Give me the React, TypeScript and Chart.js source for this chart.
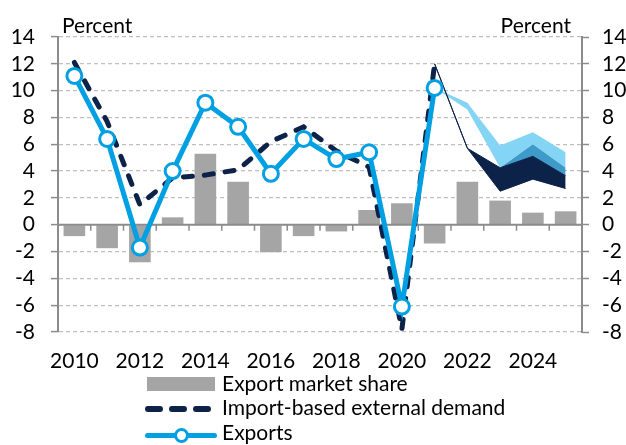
import React, { useEffect, useRef } from 'react';
import { Chart, registerables } from 'chart.js';

Chart.register(...registerables);

const years = ['2010', '2011', '2012', '2013', '2014', '2015', '2016', '2017', '2018', '2019', '2020', '2021', '2022', '2023', '2024', '2025'];
const yTicks = [-8, -6, -4, -2, 0, 2, 4, 6, 8, 10, 12, 14];

const marketShare = [-0.85, -1.75, -2.8, 0.55, 5.3, 3.2, -2.05, -0.85, -0.5, 1.1, 1.6, -1.4, 3.2, 1.8, 0.9, 1.0];
const externalDemand = [12.1, 7.7, 1.5, 3.5, 3.7, 4.1, 6.2, 7.3, 5.5, 4.3, -7.8, 12.0, null, null, null, null];
const exportsSeries = [11.1, 6.4, -1.7, 4.0, 9.1, 7.3, 3.8, 6.4, 4.9, 5.4, -6.1, 10.2, null, null, null, null];

const N = null;
const navyUpper = [N, N, N, N, N, N, N, N, N, N, N, 12.0, 5.7, 4.25, 5.1, 3.65];
const navyLower = [N, N, N, N, N, N, N, N, N, N, N, 12.0, 5.7, 2.5, 3.4, 2.7];
const midUpper = [N, N, N, N, N, N, N, N, N, N, N, N, N, 4.25, 6.0, 4.25];
const midLower = [N, N, N, N, N, N, N, N, N, N, N, N, N, 4.25, 5.1, 3.65];
const lightUpper = [N, N, N, N, N, N, N, N, N, N, N, 10.2, 9.1, 5.9, 6.9, 5.4];
const lightLower = [N, N, N, N, N, N, N, N, N, N, N, 10.2, 8.6, 4.25, 6.0, 4.25];

const FONT = 'Lato';
const GREY_BAR = '#a5a5a5';
const NAVY = '#0c2248';
const BLUE = '#00a0e3';
const MID = '#3d9ac9';
const LIGHT = '#84d4f6';
const AXIS = '#8c8c8c';
const GRID = '#bfbfbf';

const zeroLinePlugin = {
  id: 'zeroLine',
  afterDatasetDraw(chart: any, args: any) {
    if (args.index !== 0) return;
    const { ctx, chartArea, scales } = chart;
    const y0 = scales.y.getPixelForValue(0);
    ctx.save();
    ctx.setLineDash([]);
    ctx.strokeStyle = AXIS;
    ctx.lineWidth = 2;
    ctx.beginPath();
    ctx.moveTo(chartArea.left, y0);
    ctx.lineTo(chartArea.right, y0);
    ctx.stroke();
    ctx.lineWidth = 1.5;
    ctx.beginPath();
    for (let i = 1; i < years.length; i++) {
      const px = (scales.x.getPixelForValue(i - 1) + scales.x.getPixelForValue(i)) / 2;
      ctx.moveTo(px, y0);
      ctx.lineTo(px, y0 + 6);
    }
    ctx.stroke();
    ctx.restore();
  },
};

const percentPlugin = {
  id: 'percentLabels',
  afterDraw(chart: any) {
    const { ctx, chartArea } = chart;
    ctx.save();
    ctx.font = `21px ${FONT}`;
    ctx.fillStyle = '#000';
    ctx.textBaseline = 'alphabetic';
    ctx.textAlign = 'left';
    ctx.fillText('Percent', chartArea.left + 4, chartArea.top - 4);
    ctx.textAlign = 'right';
    ctx.fillText('Percent', chartArea.right - 11, chartArea.top - 4);
    ctx.restore();
  },
};

function lineDs(data: (number | null)[], extra: any) {
  return {
    type: 'line',
    data,
    pointRadius: 0,
    borderWidth: 0,
    tension: 0,
    spanGaps: false,
    fill: false,
    ...extra,
  };
}

export default function App() {
  const ref = useRef<HTMLCanvasElement | null>(null);

  useEffect(() => {
    if (!ref.current) return;
    const buildTicks = (s: any) => {
      s.ticks = yTicks.map((v) => ({ value: v }));
    };
    const tickFont = { family: FONT, size: 21 };
    const chart = new Chart(ref.current, {
      type: 'bar',
      data: {
        labels: years,
        datasets: [
          {
            type: 'bar',
            data: marketShare,
            backgroundColor: GREY_BAR,
            barPercentage: 0.66,
            categoryPercentage: 1,
            order: 10,
          } as any,
          lineDs(lightLower, { order: 8 }),
          lineDs(lightUpper, { order: 7, fill: 1, backgroundColor: LIGHT }),
          lineDs(midLower, { order: 6 }),
          lineDs(midUpper, { order: 5, fill: 3, backgroundColor: MID }),
          lineDs(navyLower, { order: 4, borderWidth: 1, borderColor: NAVY }),
          lineDs(navyUpper, { order: 3, fill: 5, backgroundColor: NAVY, borderWidth: 1, borderColor: NAVY }),
          lineDs(externalDemand, {
            order: 1,
            borderColor: NAVY,
            borderWidth: 5,
            borderDash: [9, 12],
            borderCapStyle: 'round',
          }),
          lineDs(exportsSeries, {
            order: 0,
            borderColor: BLUE,
            borderWidth: 5,
            pointRadius: 7.5,
            pointBorderWidth: 3,
            pointBackgroundColor: '#fff',
            pointBorderColor: BLUE,
          }),
        ] as any,
      },
      options: {
        responsive: false,
        animation: false,
        layout: { padding: { top: 37, bottom: 70, left: 0, right: 0 } },
        plugins: {
          legend: { display: false },
          tooltip: { enabled: false },
        },
        scales: {
          x: {
            grid: { display: false, drawTicks: false },
            border: { display: false },
            afterFit: (s: any) => {
              s.height = 43;
            },
            ticks: {
              autoSkip: false,
              maxRotation: 0,
              padding: 17,
              color: '#000',
              font: tickFont,
              callback: (_v: any, i: number) => (i % 2 === 0 ? years[i] : ''),
            },
          },
          y: {
            min: -8,
            max: 14,
            position: 'left',
            afterBuildTicks: buildTicks,
            afterFit: (s: any) => {
              s.width = 58;
            },
            grid: {
              display: true,
              drawOnChartArea: true,
              color: GRID,
              lineWidth: 1.2,
              tickLength: 7,
              tickColor: AXIS,
              tickWidth: 1.5,
            },
            border: { display: true, color: AXIS, width: 2, dash: [4, 3] },
            ticks: { autoSkip: false, color: '#000', font: tickFont, padding: 16 },
          },
          y2: {
            min: -8,
            max: 14,
            position: 'right',
            afterBuildTicks: buildTicks,
            afterFit: (s: any) => {
              s.width = 44;
            },
            grid: {
              drawOnChartArea: false,
              tickLength: 7,
              tickColor: AXIS,
              tickWidth: 1.5,
            },
            border: { display: true, color: AXIS, width: 2 },
            ticks: { autoSkip: false, color: '#000', font: tickFont, padding: 13 },
          },
        },
      } as any,
      plugins: [zeroLinePlugin, percentPlugin],
    });
    return () => chart.destroy();
  }, []);

  const textStyle: React.CSSProperties = {
    position: 'absolute',
    left: 222,
    fontFamily: FONT,
    fontSize: 21,
    lineHeight: '24px',
    color: '#000',
    whiteSpace: 'nowrap',
  };

  return (
    <div style={{ position: 'absolute', left: 0, top: 0, width: 626, height: 445, background: '#fff' }}>
      <canvas ref={ref} width={626} height={445} style={{ position: 'absolute', left: 0, top: 0, width: 626, height: 445 }} />
      <div style={{ position: 'absolute', left: 147, top: 377, width: 68, height: 14, background: GREY_BAR }} />
      <div style={{ ...textStyle, top: 371 }}>Export market share</div>
      {[145, 169, 193].map((x) => (
        <div key={x} style={{ position: 'absolute', left: x, top: 406, width: 18, height: 6, borderRadius: 3, background: NAVY }} />
      ))}
      <div style={{ ...textStyle, top: 395 }}>Import-based external demand</div>
      <div style={{ position: 'absolute', left: 145, top: 433, width: 72, height: 5, borderRadius: 2.5, background: BLUE }} />
      <div
        style={{
          position: 'absolute',
          left: 181 - 7.5,
          top: 435.5 - 7.5,
          width: 15,
          height: 15,
          boxSizing: 'border-box',
          borderRadius: '50%',
          border: `3px solid ${BLUE}`,
          background: '#fff',
        }}
      />
      <div style={{ ...textStyle, top: 420 }}>Exports</div>
    </div>
  );
}
